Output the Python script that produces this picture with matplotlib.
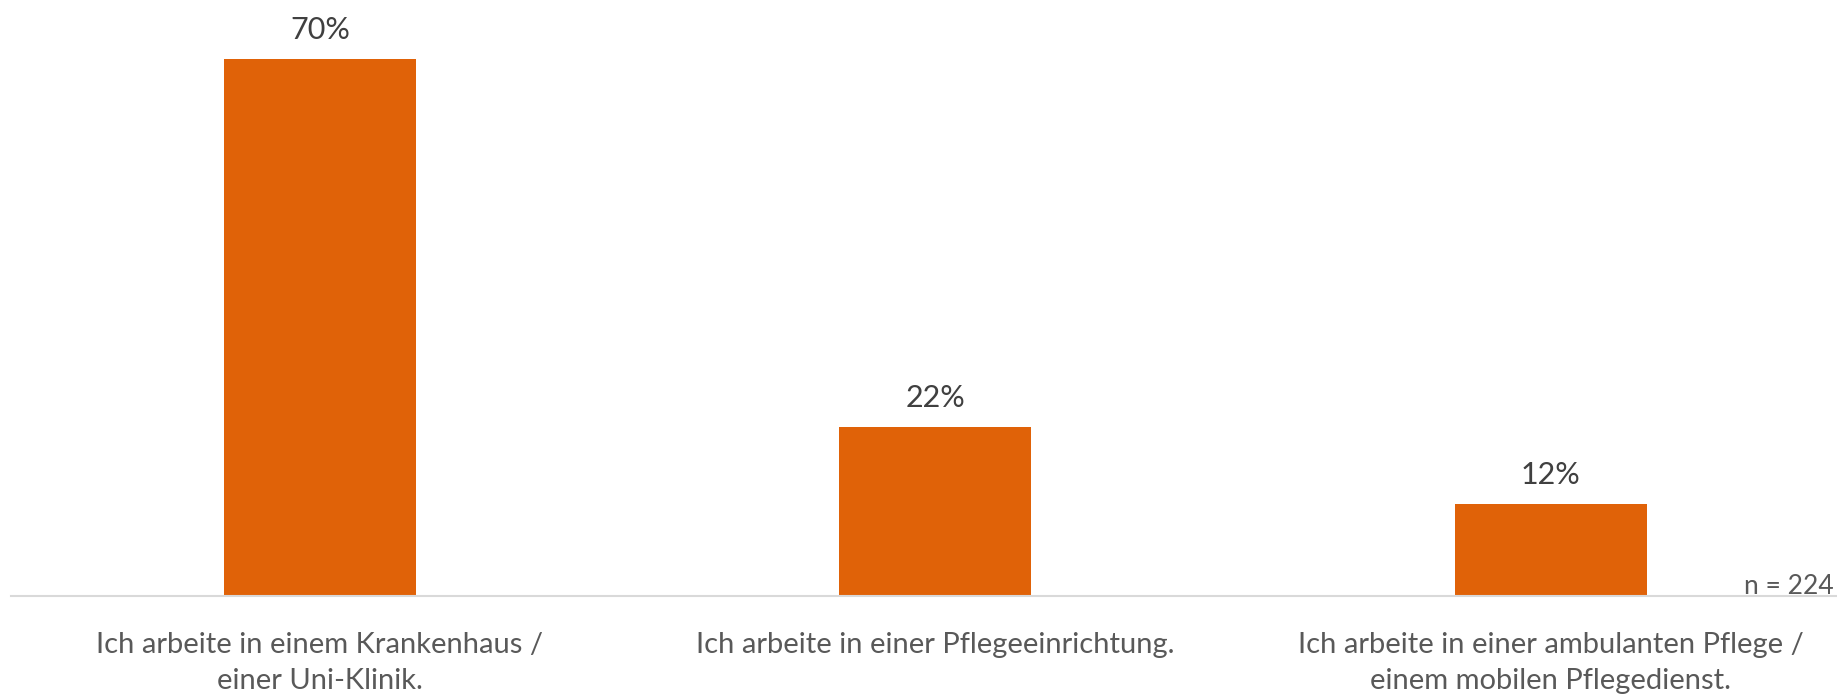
import matplotlib.pyplot as plt

# =============================================================================
# Data
# =============================================================================

categories = [
    "Ich arbeite in einem Krankenhaus /\neiner Uni-Klinik.",
    "Ich arbeite in einer Pflegeeinrichtung.",
    "Ich arbeite in einer ambulanten Pflege /\neinem mobilen Pflegedienst.",
]
shares = [70, 22, 12]
sample_note = "n = 224"

bar_color = "#E06208"
label_color = "#595959"
value_color = "#404040"

plt.rcParams["font.family"] = ["Lato", "DejaVu Sans"]

# =============================================================================
# Figure
# =============================================================================

width_px, height_px = 1837, 698
fig = plt.figure(figsize=(width_px / 100, height_px / 100), dpi=100)
ax = fig.add_axes([11 / width_px, 102 / height_px,
                   (width_px - 11) / width_px, 596 / height_px])

positions = list(range(len(categories)))
bars = ax.bar(positions, shares, width=0.312, color=bar_color, zorder=2)

for bar, value in zip(bars, shares):
    ax.annotate(
        f"{value}%",
        xy=(bar.get_x() + bar.get_width() / 2, bar.get_height()),
        xytext=(0, 11),
        textcoords="offset points",
        ha="center",
        va="bottom",
        fontsize=22,
        color=value_color,
    )

ax.set_xlim(-0.502, 2.465)
ax.set_ylim(0, 77.7)

ax.set_xticks(positions)
ax.set_xticklabels(categories, fontsize=21, color=label_color,
                   linespacing=1.45, va="top")
ax.tick_params(axis="x", length=0, pad=26)
ax.set_yticks([])

for side in ["top", "right", "left"]:
    ax.spines[side].set_visible(False)
ax.spines["bottom"].set_color("#D9D9D9")
ax.spines["bottom"].set_linewidth(1.5)

ax.text(0.998, 0.004, sample_note, transform=ax.transAxes,
        ha="right", va="baseline", fontsize=19, color=label_color)

fig.savefig("out.png", dpi=100)
